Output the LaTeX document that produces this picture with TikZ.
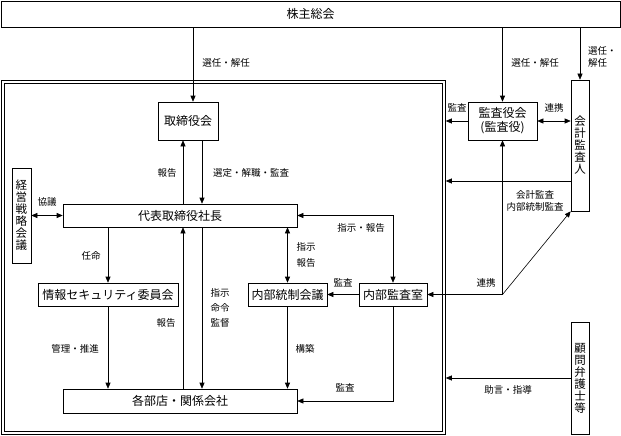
\documentclass[tikz,border=0pt]{standalone}
\usepackage{fontspec}
\setmainfont{Noto Sans CJK JP}
\usetikzlibrary{arrows.meta}

\begin{document}
\begin{tikzpicture}[x=1pt,y=-1pt,
	box/.style={draw,line width=0.6pt,inner sep=0pt,font=\fontsize{12}{14}\selectfont},
	vbox/.style={box,minimum width=18pt,align=center,font=\fontsize{11.5}{12}\selectfont},
	lbl/.style={inner sep=0pt,font=\fontsize{9.5}{12}\selectfont},
	arr/.style={-{Triangle[length=6pt,width=5pt]},line width=0.6pt},
	arrs/.style={{Triangle[length=6pt,width=5pt]}-{Triangle[length=6pt,width=5pt]},line width=0.6pt}]
	\useasboundingbox (0,0) rectangle (621,436);
	% frame
	\node[draw,double,double distance=2.4pt,line width=0.6pt,inner sep=0pt,minimum width=441pt,minimum height=351pt] (grp) at (223.5,257.5) {};
	% boxes
	\node[box,minimum width=619pt,minimum height=26pt] (sokai) at (310.5,14) {株主総会};
	\node[box,minimum width=60pt,minimum height=38pt] (torishimari) at (188,121) {取締役会};
	\node[box,minimum width=69pt,minimum height=38pt,align=center] (kansayaku) at (502.5,121) {監査役会\\(監査役)};
	\node[vbox,minimum height=131pt] (kaikei) at (580,145.5) {会\\計\\監\\査\\人};
	\node[vbox,minimum width=19pt,minimum height=95pt] (keiei) at (21.5,215.5) {経\\営\\戦\\略\\会\\議};
	\node[box,minimum width=234pt,minimum height=23pt] (shacho) at (180,215.5) {代表取締役社長};
	\node[box,minimum width=140pt,minimum height=23pt] (joho) at (108,294.5) {情報セキュリティ委員会};
	\node[box,minimum width=79pt,minimum height=23pt] (tosei) at (287.5,294.5) {内部統制会議};
	\node[box,minimum width=68pt,minimum height=23pt] (naibu) at (393,294.5) {内部監査室};
	\node[box,minimum width=234pt,minimum height=24pt] (kakubu) at (180,401) {各部店・関係会社};
	\node[vbox,minimum height=112pt] (komon) at (580,378) {顧\\問\\弁\\護\\士\\等};
	% from sokai
	\draw[arr] ([xshift=5pt]torishimari.north |- sokai.south) -- ([xshift=5pt]torishimari.north);
	\draw[arr] (kansayaku.north |- sokai.south) -- (kansayaku.north);
	\draw[arr] (kaikei.north |- sokai.south) -- (kaikei.north);
	\node[lbl] (l1) at (226,63) {選任・解任};
	\node[lbl] (l2) at (535,63) {選任・解任};
	\node[lbl,align=left,anchor=west] (l3) at (588,57) {選任・\\解任};
	% kansayaku, kaikei
	\draw[arr,shorten >=1.5pt] (kansayaku.west) -- (kansayaku.west -| grp.east);
	\node[lbl] (l4) at (457,108) {監査};
	\draw[arrs] (kansayaku.east) -- (kansayaku.east -| kaikei.west);
	\node[lbl] (l5) at (554,108) {連携};
	\draw[arr,shorten >=1.5pt] ([yshift=-35.5pt]kaikei.west) -- ([yshift=-35.5pt]kaikei.west -| grp.east);
	\node[lbl,align=center] (l6) at (535,201) {会計監査\\内部統制監査};
	% renkei
	\coordinate (jn) at (kansayaku.south |- naibu.east);
	\draw[arr] (jn) -- (kansayaku.south);
	\draw[arr] (jn) -- (kaikei.south west);
	\draw[arr] (jn) -- (naibu.east);
	\node[lbl] (l7) at (486,283) {連携};
	% torishimari - shacho
	\draw[arr] ([xshift=-5pt]torishimari.south |- shacho.north) -- ([xshift=-5pt]torishimari.south);
	\draw[arr] ([xshift=14pt]torishimari.south) -- ([xshift=14pt]torishimari.south |- shacho.north);
	\node[lbl] (l8) at (167,173) {報告};
	\node[lbl] (l9) at (251,173) {選定・解職・監査};
	% keiei
	\draw[arrs] (keiei.east |- shacho.west) -- (shacho.west);
	\node[lbl] (l10) at (47,202) {協議};
	% shacho - naibu
	\draw[arrs] (shacho.east) -- (shacho.east -| naibu.north) -- (naibu.north);
	\node[lbl] (l11) at (361,228) {指示・報告};
	\draw[arrs] (tosei.north |- shacho.south) -- (tosei.north);
	\node[lbl,align=center] (l12) at (306,255) {指示\\[4pt]報告};
	% shacho - joho, kakubu
	\draw[arr] (joho.north |- shacho.south) -- (joho.north);
	\node[lbl] (l13) at (91,256) {任命};
	\draw[arr] ([xshift=3pt]shacho.south |- kakubu.north) -- ([xshift=3pt]shacho.south);
	\node[lbl] (l14) at (166,323) {報告};
	\draw[arr] ([xshift=22pt]shacho.south) -- ([xshift=22pt]shacho.south |- kakubu.north);
	\node[lbl,align=center] (l15) at (220,308) {指示\\[3pt]命令\\[3pt]監督};
	% to kakubu
	\draw[arr] (joho.south) -- (joho.south |- kakubu.north);
	\node[lbl] (l16) at (75,349) {管理・推進};
	\draw[arr] (tosei.south) -- (tosei.south |- kakubu.north);
	\node[lbl] (l17) at (305,349) {構築};
	\draw[arr] (naibu.west) -- (tosei.east);
	\node[lbl] (l18) at (343,283) {監査};
	\draw[arr] (naibu.south) -- (naibu.south |- kakubu.east) -- (kakubu.east);
	\node[lbl] (l19) at (345,388) {監査};
	% komon
	\draw[arr,shorten >=1.5pt] (komon.west) -- (komon.west -| grp.east);
	\node[lbl] (l20) at (508,390) {助言・指導};
\end{tikzpicture}
\end{document}
